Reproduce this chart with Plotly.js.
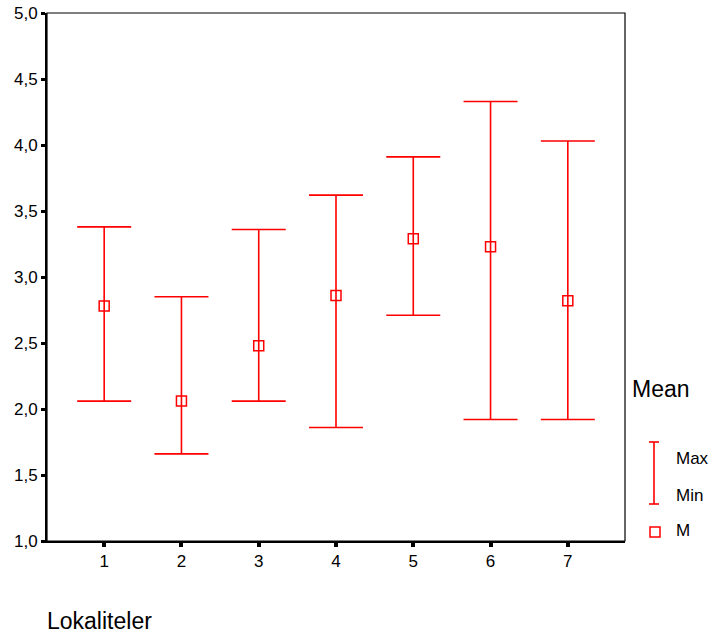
<!DOCTYPE html>
<html><head><meta charset="utf-8">
<script src="https://cdn.plot.ly/plotly-3.0.1.min.js"></script>
<style>html,body{margin:0;padding:0;background:#fff}</style>
</head><body>
<div id="chart" style="width:710px;height:633px"></div>
<script>
var categories = [1, 2, 3, 4, 5, 6, 7];
var meanValues = [2.78, 2.06, 2.48, 2.86, 3.29, 3.23, 2.82];
var maxValues  = [3.38, 2.85, 3.36, 3.62, 3.91, 4.33, 4.03];
var minValues  = [2.06, 1.66, 2.06, 1.86, 2.71, 1.92, 1.92];
var yTicks = [1.0, 1.5, 2.0, 2.5, 3.0, 3.5, 4.0, 4.5, 5.0];

var red = '#ff0000';
var font = 'Liberation Sans, Arial, sans-serif';

var trace = {
  type: 'scatter', mode: 'markers',
  x: categories, y: meanValues,
  marker: {symbol: 'square-open', size: 10, color: red, line: {width: 1.5, color: red}},
  error_y: {
    type: 'data', symmetric: false,
    array: maxValues.map(function(v, i){ return v - meanValues[i]; }),
    arrayminus: minValues.map(function(v, i){ return meanValues[i] - v; }),
    color: red, thickness: 1.6, width: 27
  },
  showlegend: false, hoverinfo: 'skip'
};

var plotW = 710 - 47 - 85, plotH = 633 - 13 - 92;
function px(x){ return (x - 47) / plotW; }
function py(y){ return (633 - 92 - y) / plotH; }

var layout = {
  width: 710, height: 633,
  margin: {l: 47, r: 85, t: 13, b: 92},
  paper_bgcolor: '#fff', plot_bgcolor: '#fff',
  separators: ', ',
  font: {family: font, size: 17, color: '#000'},
  showlegend: false,
  xaxis: {
    range: [0.26, 7.74], tickvals: categories, ticktext: categories.map(String),
    ticks: 'outside', ticklen: 4, tickwidth: 4, tickcolor: '#000',
    showgrid: false, zeroline: false,
    showline: true, linecolor: '#000', linewidth: 2,
    tickfont: {family: font, size: 17, color: '#000'}
  },
  yaxis: {
    range: [1.0, 5.0], tickvals: yTicks, tickformat: '.1f',
    ticks: 'outside', ticklen: 4, tickwidth: 3, tickcolor: '#000',
    showgrid: false, zeroline: false,
    showline: true, linecolor: '#000', linewidth: 2,
    tickfont: {family: font, size: 17, color: '#000'}
  },
  shapes: [
    {type: 'rect', xref: 'paper', yref: 'paper', x0: 0, x1: 1, y0: 0, y1: 1,
     line: {color: '#000', width: 1.2}},
    {type: 'line', xref: 'paper', yref: 'paper', x0: px(654), x1: px(654), y0: py(442), y1: py(504), line: {color: red, width: 1.6}},
    {type: 'line', xref: 'paper', yref: 'paper', x0: px(649), x1: px(659), y0: py(442), y1: py(442), line: {color: red, width: 1.6}},
    {type: 'line', xref: 'paper', yref: 'paper', x0: px(649), x1: px(659), y0: py(504), y1: py(504), line: {color: red, width: 1.6}},
    {type: 'rect', xref: 'paper', yref: 'paper', x0: px(650), x1: px(660), y0: py(527), y1: py(537), line: {color: red, width: 1.5}}
  ],
  annotations: [
    {text: 'Lokaliteler', xref: 'paper', yref: 'paper', x: px(45), y: py(621), xanchor: 'left', yanchor: 'middle',
     showarrow: false, font: {family: font, size: 23, color: '#000'}},
    {text: 'Mean', xref: 'paper', yref: 'paper', x: px(630), y: py(389), xanchor: 'left', yanchor: 'middle',
     showarrow: false, font: {family: font, size: 23, color: '#000'}},
    {text: 'Max', xref: 'paper', yref: 'paper', x: px(674), y: py(458), xanchor: 'left', yanchor: 'middle',
     showarrow: false, font: {family: font, size: 17, color: '#000'}},
    {text: 'Min', xref: 'paper', yref: 'paper', x: px(674), y: py(495), xanchor: 'left', yanchor: 'middle',
     showarrow: false, font: {family: font, size: 17, color: '#000'}},
    {text: 'M', xref: 'paper', yref: 'paper', x: px(674), y: py(530), xanchor: 'left', yanchor: 'middle',
     showarrow: false, font: {family: font, size: 17, color: '#000'}}
  ]
};

Plotly.newPlot('chart', [trace], layout, {displayModeBar: false, staticPlot: true});
</script>
</body></html>
